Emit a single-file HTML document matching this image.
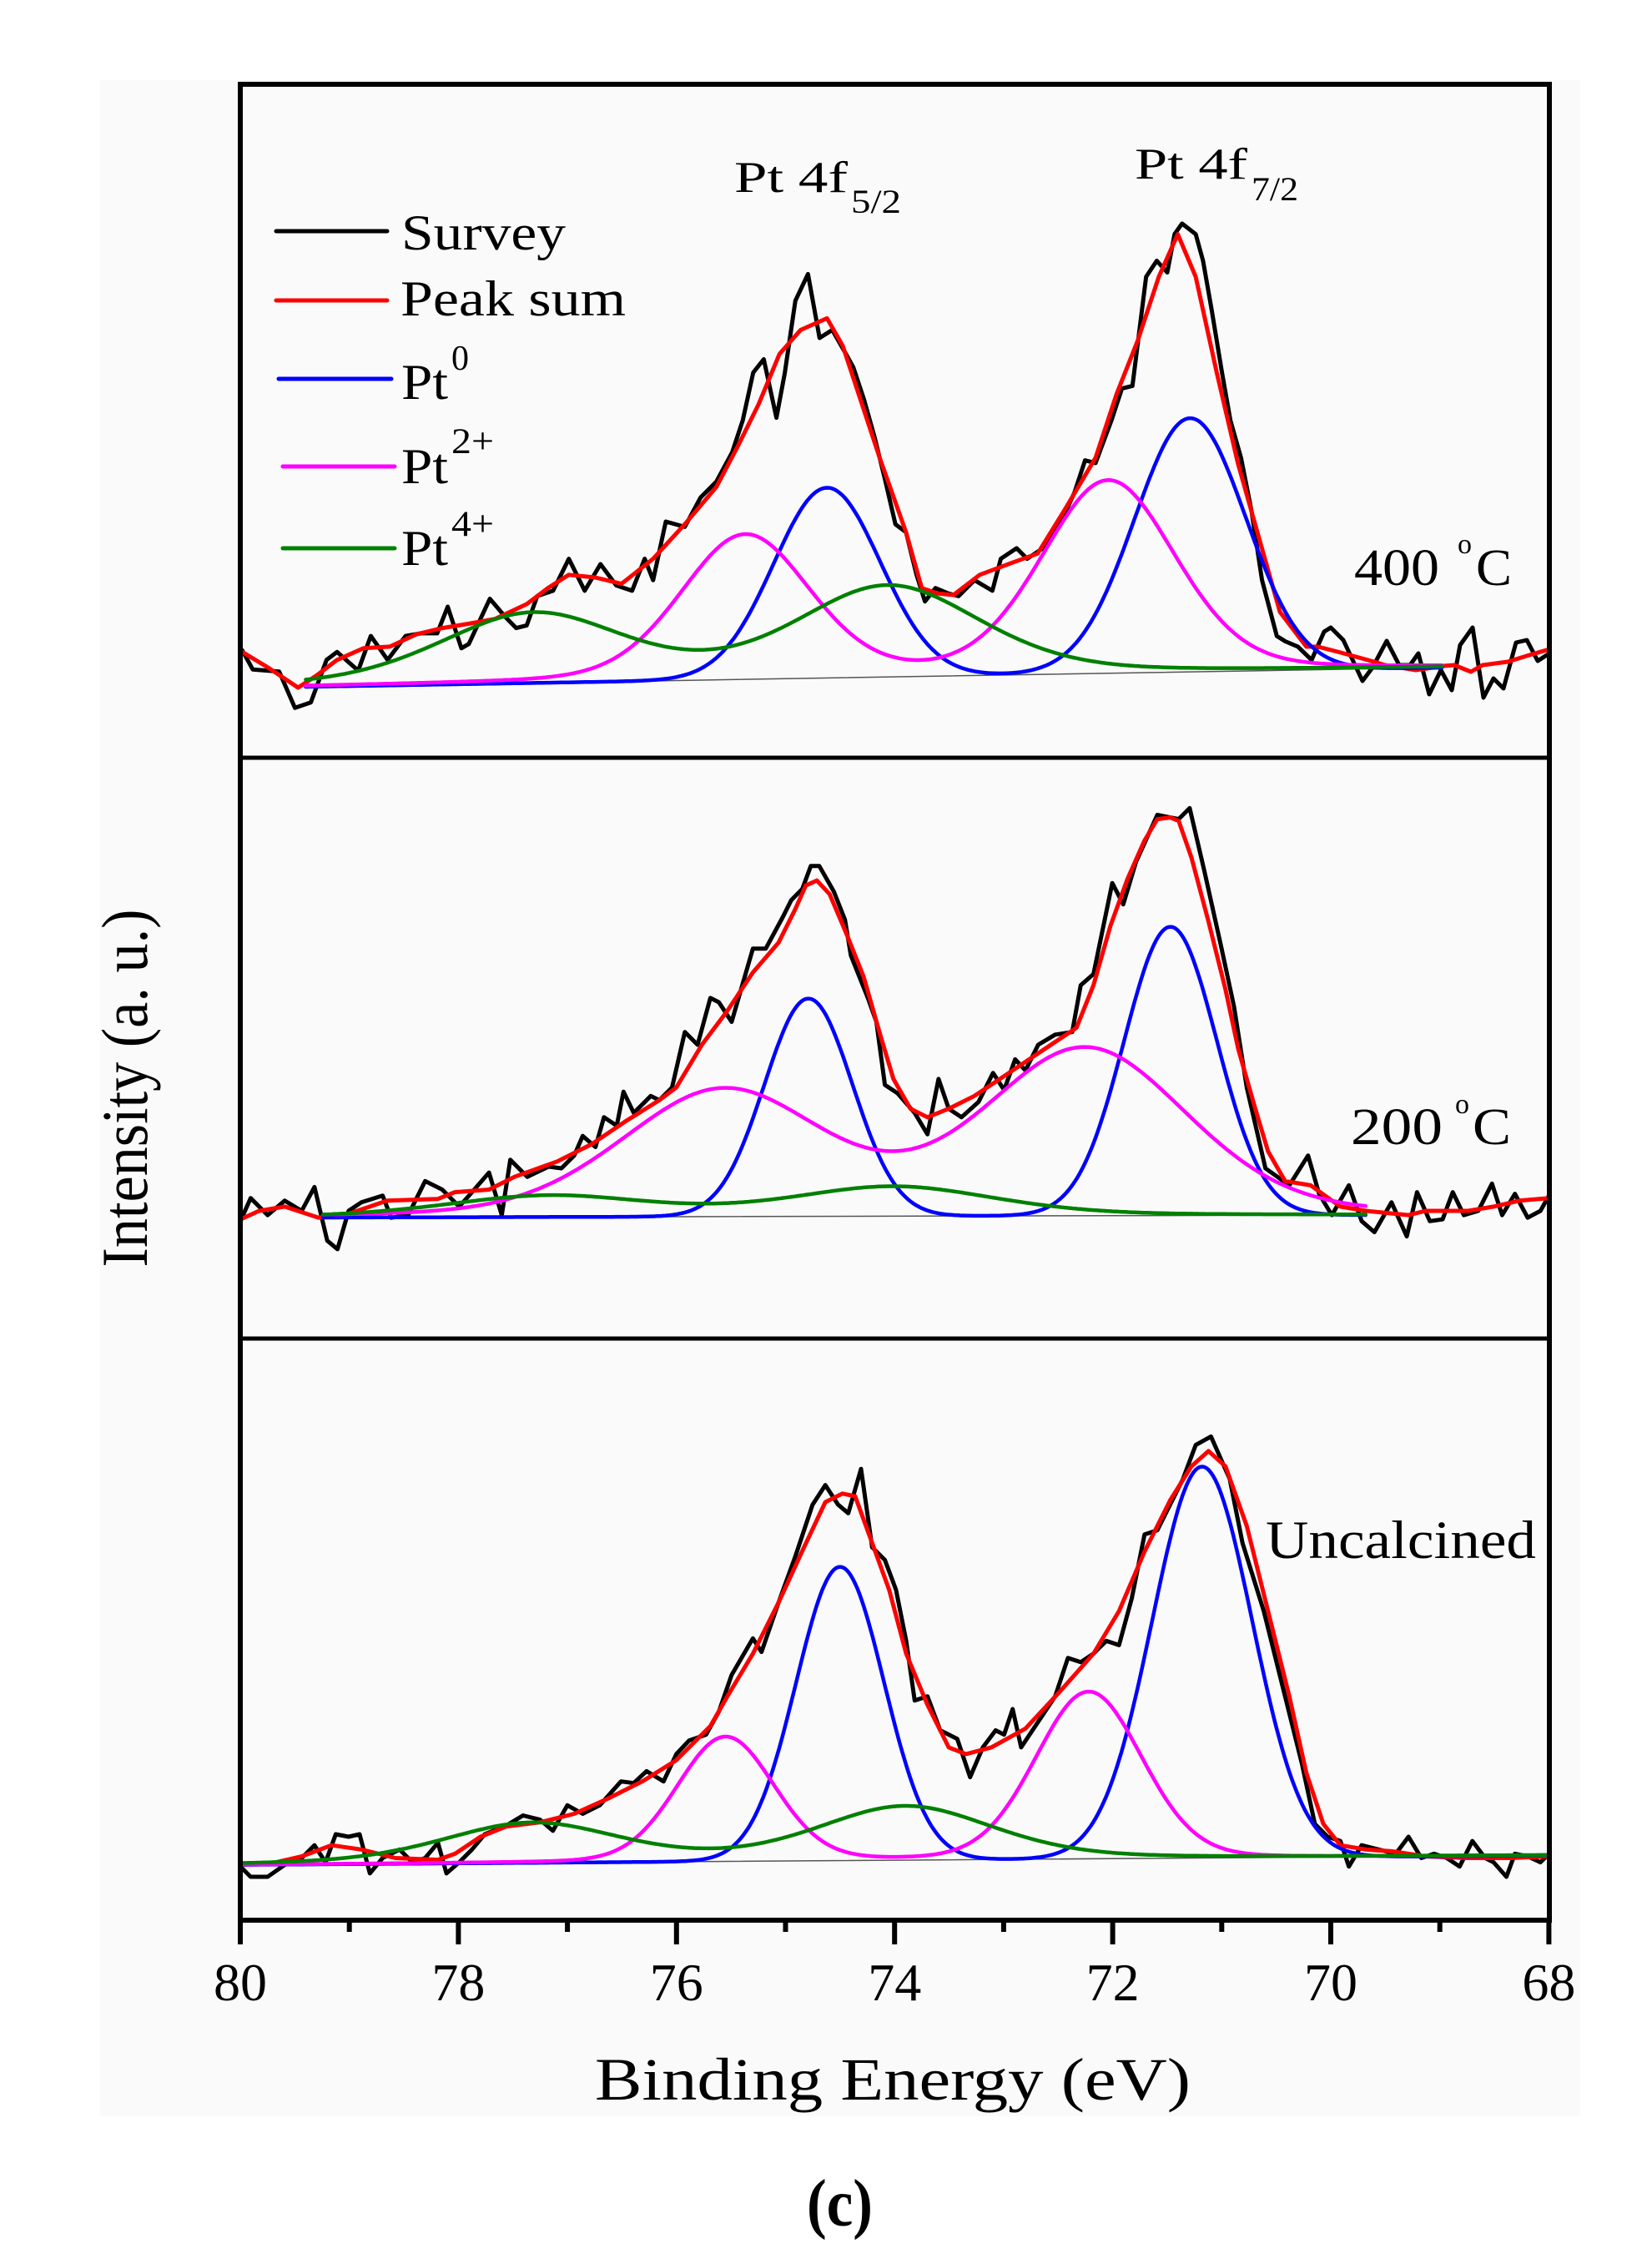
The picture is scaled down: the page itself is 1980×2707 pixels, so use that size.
<!DOCTYPE html>
<html>
<head>
<meta charset="utf-8">
<style>
html,body{margin:0;padding:0;background:#fff;}
svg{display:block;}
svg text{font-family:"Liberation Serif",serif !important;fill:#000;}
</style>
</head>
<body>
<svg id="s" xmlns="http://www.w3.org/2000/svg" width="1980" height="2707" viewBox="0 0 1980 2707" font-family="Liberation Serif, serif">
<rect x="0" y="0" width="1980" height="2707" fill="#ffffff"/>
<rect x="120" y="96" width="1774" height="2440" fill="#fafafa"/>

<g id="curves"></g>

<!-- frame -->
<rect x="288" y="101" width="1569" height="2200" fill="none" stroke="#000" stroke-width="6"/>
<line x1="288" y1="908" x2="1857" y2="908" stroke="#000" stroke-width="5"/>
<line x1="288" y1="1604" x2="1857" y2="1604" stroke="#000" stroke-width="5"/>

<!-- ticks -->
<g stroke="#000" stroke-width="6">
<line x1="288" y1="2301" x2="288" y2="2330"/>
<line x1="418.7" y1="2301" x2="418.7" y2="2315"/>
<line x1="549.4" y1="2301" x2="549.4" y2="2330"/>
<line x1="680.1" y1="2301" x2="680.1" y2="2315"/>
<line x1="810.8" y1="2301" x2="810.8" y2="2330"/>
<line x1="941.5" y1="2301" x2="941.5" y2="2315"/>
<line x1="1072.2" y1="2301" x2="1072.2" y2="2330"/>
<line x1="1202.9" y1="2301" x2="1202.9" y2="2315"/>
<line x1="1333.6" y1="2301" x2="1333.6" y2="2330"/>
<line x1="1464.3" y1="2301" x2="1464.3" y2="2315"/>
<line x1="1595" y1="2301" x2="1595" y2="2330"/>
<line x1="1725.7" y1="2301" x2="1725.7" y2="2315"/>
<line x1="1856.4" y1="2301" x2="1856.4" y2="2330"/>
</g>
<g font-size="64" text-anchor="middle">
<text x="288" y="2397">80</text>
<text x="549.4" y="2397">78</text>
<text x="810.8" y="2397">76</text>
<text x="1072.2" y="2397">74</text>
<text x="1333.6" y="2397">72</text>
<text x="1595" y="2397">70</text>
<text x="1856.4" y="2397">68</text>
</g>

<text x="713" y="2516" font-size="72" textLength="714" lengthAdjust="spacingAndGlyphs">Binding Energy (eV)</text>
<text x="967" y="2667" font-size="80" font-weight="bold" textLength="79" lengthAdjust="spacingAndGlyphs">(c)</text>

<text transform="translate(176,1304) rotate(-90) scale(1,1.12)" font-size="70" text-anchor="middle" textLength="429" lengthAdjust="spacingAndGlyphs">Intensity (a. u.)</text>

<!-- legend -->
<g stroke-width="5" stroke-linecap="round">
<line x1="331" y1="277" x2="464" y2="277" stroke="#000"/>
<line x1="331" y1="360" x2="464" y2="360" stroke="#ff0000"/>
<line x1="334" y1="454" x2="469" y2="454" stroke="#0000ff"/>
<line x1="339" y1="559" x2="473" y2="559" stroke="#ff00ff"/>
<line x1="339" y1="657" x2="473" y2="657" stroke="#008000"/>
</g>
<text x="481" y="299" font-size="60" textLength="197" lengthAdjust="spacingAndGlyphs">Survey</text>
<text x="480" y="378" font-size="60" textLength="270" lengthAdjust="spacingAndGlyphs">Peak sum</text>
<text x="481" y="478" font-size="60" textLength="56" lengthAdjust="spacingAndGlyphs">Pt</text>
<text x="541" y="443" font-size="42" textLength="21" lengthAdjust="spacingAndGlyphs">0</text>
<text x="481" y="579" font-size="60" textLength="56" lengthAdjust="spacingAndGlyphs">Pt</text>
<text x="541" y="543" font-size="43" textLength="51" lengthAdjust="spacingAndGlyphs">2+</text>
<text x="481" y="677" font-size="60" textLength="56" lengthAdjust="spacingAndGlyphs">Pt</text>
<text x="541" y="642" font-size="43" textLength="51" lengthAdjust="spacingAndGlyphs">4+</text>

<!-- peak labels -->
<text x="880" y="230" font-size="53" textLength="136" lengthAdjust="spacingAndGlyphs">Pt 4f</text>
<text x="1020" y="255" font-size="40" textLength="60" lengthAdjust="spacingAndGlyphs">5/2</text>
<text x="1360" y="214" font-size="53" textLength="135" lengthAdjust="spacingAndGlyphs">Pt 4f</text>
<text x="1500" y="240" font-size="40" textLength="56" lengthAdjust="spacingAndGlyphs">7/2</text>

<!-- panel labels -->
<text x="1623" y="701" font-size="62" textLength="102" lengthAdjust="spacingAndGlyphs">400</text>
<text x="1747" y="663" font-size="34">o</text>
<text x="1769" y="701" font-size="62" textLength="43" lengthAdjust="spacingAndGlyphs">C</text>

<text x="1619" y="1371" font-size="62" textLength="110" lengthAdjust="spacingAndGlyphs">200</text>
<text x="1744" y="1334" font-size="34">o</text>
<text x="1765" y="1371" font-size="62" textLength="46" lengthAdjust="spacingAndGlyphs">C</text>

<text x="1517" y="1867" font-size="65" textLength="324" lengthAdjust="spacingAndGlyphs">Uncalcined</text>
</svg>

<script>
(function(){
var NS="http://www.w3.org/2000/svg";
var g=document.getElementById('curves');
function poly(pts,color,w){
  var p=document.createElementNS(NS,'polyline');
  p.setAttribute('points',pts.map(function(a){return a[0].toFixed(1)+','+a[1].toFixed(1);}).join(' '));
  p.setAttribute('fill','none');p.setAttribute('stroke',color);
  p.setAttribute('stroke-width',w);p.setAttribute('stroke-linejoin','round');p.setAttribute('stroke-linecap','round');
  g.appendChild(p);
}
function X(E){return 288+(80-E)*130.7;}
function z1(a){return [a[0]/0.792,a[1]/1.568];}
function z7(a){return [280+a[0]/0.98,900+a[1]/0.98];}
function pv(E,c){var d=E-c.E,q=4*d*d/(c.F*c.F);return c.h*((1-c.m)*Math.exp(-Math.LN2*q)+c.m/(1+q));}
function comp(P,peaks,color,w){
  var pts=[];
  for(var E=P.E0;E>=P.E1-1e-9;E-=0.02){
    var yb=P.y0+(P.E0-E)/(P.E0-P.E1)*(P.y1-P.y0);
    var s=0;for(var i=0;i<peaks.length;i++)s+=pv(E,peaks[i]);
    pts.push([X(E),yb-s]);
  }
  poly(pts,color,w);
}
function base(P){poly([[X(P.E0),P.y0],[X(P.E1),P.y1]],'#555',1.5);}

/* ---------- TOP (400 C) ---------- */
var topRed=[[230,1225],[255,1255],[283,1292],[300,1270],[320,1240],[345,1218],[370,1215],[395,1192],[420,1180],[445,1172],[470,1163],[500,1135],[520,1105],[540,1080],[565,1085],[590,1097],[620,1050],[650,985],[680,915],[700,840],[720,760],[740,665],[760,620],[785,598],[800,650],[815,740],[835,860],[860,1000],[875,1105],[890,1115],[905,1118],[930,1080],[960,1058],[985,1040],[1010,960],[1040,860],[1060,740],[1080,640],[1100,520],[1118,440],[1135,520],[1155,700],[1175,870],[1195,1010],[1215,1150],[1240,1215]].map(z1)
 .concat([[1580,775],[1607,782],[1647,793],[1660,797],[1697,803],[1730,798],[1743,797],[1763,805],[1777,797],[1807,793],[1833,785],[1857,778]]);
var topBlack=[[230,1222],[240,1258],[265,1262],[280,1330],[295,1320],[310,1240],[320,1225],[340,1260],[352,1195],[368,1240],[385,1195],[400,1190],[415,1190],[425,1140],[438,1218],[445,1210],[465,1125],[480,1160],[490,1180],[500,1175],[510,1120],[525,1110],[540,1050],[555,1110],[570,1060],[585,1100],[600,1110],[612,1050],[620,1090],[632,980],[650,990],[665,935],[680,905],[695,850],[705,790],[715,700],[725,675],[737,785],[745,700],[755,565],[767,515],[778,635],[790,620],[803,665],[810,690],[820,750],[830,820],[840,900],[850,985],[860,1000],[870,1080],[878,1130],[888,1105],[900,1115],[910,1120],[925,1090],[942,1110],[950,1050],[965,1030],[975,1050],[990,1030],[1005,990],[1020,925],[1030,865],[1040,870],[1055,790],[1065,730],[1075,725],[1088,520],[1098,490],[1108,512],[1115,440],[1122,420],[1135,440],[1142,490],[1150,580],[1160,700],[1168,790],[1178,860],[1188,960],[1198,1090],[1212,1195],[1220,1205],[1232,1215],[1245,1240]].map(z1)
 .concat([[1587,757],[1595,752],[1610,767],[1633,816],[1645,800],[1662,768],[1677,797],[1690,797],[1700,783],[1713,832],[1727,803],[1740,827],[1750,773],[1765,752],[1778,836],[1790,813],[1802,825],[1817,770],[1830,767],[1843,792],[1857,783]]);
var PT={E0:79.40,y0:823,E1:68.97,y1:800};
base(PT);
poly(topBlack,'#000',5);
poly(topRed,'#ff0000',5);
comp(PT,[{E:74.62,h:228,F:1.15,m:0},{E:71.29,h:304,F:1.2,m:0}],'#0000ff',4.5);
comp(PT,[{E:75.37,h:172,F:1.4,m:0.2},{E:72.04,h:230,F:1.45,m:0.2}],'#ff00ff',4.5);
comp(PT,[{E:77.32,h:82,F:2.0,m:0.3},{E:74.06,h:108,F:2.0,m:0.3}],'#008000',4.5);

/* ---------- MIDDLE (200 C) ---------- */
var midRed=[[8,550],[30,540],[60,535],[100,548],[130,545],[160,535],[180,528],[240,526],[260,518],[300,515],[330,500],[380,482],[420,462],[460,435],[500,410],[520,395],[550,345],[580,305],[610,260],[640,225],[660,185],[672,158],[685,152],[700,168],[720,215],[740,265],[760,335],[775,385],[795,420],[815,430],[840,420],[870,405],[900,385],[930,365],[960,345],[990,325],[1010,275],[1030,205],[1050,150],[1070,105],[1085,80],[1100,78],[1110,82],[1125,125],[1145,200],[1165,280],[1180,350],[1200,420],[1215,470],[1235,505],[1265,510],[1300,535],[1330,540],[1380,545],[1400,540],[1450,540],[1480,535],[1510,528],[1545,525]].map(z7);
var midBlack=[[8,552],[20,525],[40,545],[60,528],[80,540],[95,512],[110,575],[122,585],[135,540],[150,530],[175,522],[185,548],[205,545],[225,505],[245,515],[265,535],[280,518],[300,495],[315,545],[325,480],[345,500],[370,488],[385,490],[400,475],[410,452],[425,465],[435,430],[450,440],[458,400],[470,425],[490,405],[500,410],[515,395],[530,330],[545,345],[560,290],[570,295],[585,318],[610,232],[625,232],[645,195],[655,175],[668,162],[678,135],[688,135],[705,165],[718,198],[725,240],[745,290],[755,318],[765,392],[780,402],[800,425],[815,450],[828,385],[840,420],[855,430],[875,412],[892,378],[905,398],[918,362],[930,375],[945,345],[965,333],[985,330],[995,275],[1010,262],[1032,155],[1045,180],[1060,130],[1085,75],[1110,80],[1123,67],[1140,140],[1160,230],[1175,300],[1190,395],[1212,490],[1240,510],[1262,475],[1275,520],[1290,545],[1310,510],[1325,552],[1340,565],[1360,530],[1378,570],[1390,518],[1405,552],[1420,550],[1432,518],[1445,545],[1462,540],[1478,508],[1490,545],[1505,520],[1520,548],[1535,540],[1545,522]].map(z7);
var PM={E0:79.24,y0:1459,E1:69.68,y1:1456};
base(PM);
poly(midBlack,'#000',5);
poly(midRed,'#ff0000',5);
comp(PM,[{E:74.79,h:261,F:0.95,m:0},{E:71.47,h:346,F:1.0,m:0}],'#0000ff',4.5);
comp(PM,[{E:75.57,h:150,F:2.2,m:0.2},{E:72.25,h:199,F:2.2,m:0.2}],'#ff00ff',4.5);
comp(PM,[{E:77.17,h:25,F:2.2,m:0.3},{E:74.01,h:35,F:2.2,m:0.3}],'#008000',4.5);

/* ---------- BOTTOM (Uncalcined) ---------- */
var botRed=[[8,1308],[50,1305],[80,1298],[115,1285],[150,1290],[190,1300],[240,1302],[260,1295],[290,1275],[320,1263],[360,1258],[400,1248],[440,1230],[480,1210],[520,1185],[560,1145],[580,1110],[610,1060],[640,1000],[670,935],[695,882],[715,872],[730,875],[750,930],[770,985],[790,1060],[815,1120],[840,1170],[860,1178],[890,1170],[930,1148],[970,1105],[1010,1060],[1040,1010],[1070,940],[1100,880],[1125,840],[1145,822],[1165,840],[1190,910],[1215,1010],[1240,1110],[1260,1200],[1280,1260],[1300,1285],[1330,1290],[1360,1292],[1400,1298],[1450,1300],[1500,1300],[1545,1298]].map(z7);
var botBlack=[[8,1310],[20,1322],[40,1322],[60,1308],[80,1300],[95,1285],[108,1305],[120,1272],[135,1275],[148,1272],[160,1318],[175,1300],[195,1290],[210,1305],[225,1300],[240,1282],[250,1318],[265,1305],[280,1290],[295,1272],[320,1262],[340,1250],[360,1255],[375,1268],[392,1238],[410,1248],[430,1238],[455,1210],[470,1212],[485,1198],[505,1210],[520,1178],[535,1162],[555,1155],[570,1128],[585,1085],[610,1042],[620,1058],[640,1000],[660,945],[680,885],[695,862],[710,885],[722,895],[737,843],[750,935],[765,950],[778,985],[790,1045],[800,1115],[815,1110],[830,1150],[850,1160],[865,1205],[880,1170],[895,1150],[905,1155],[915,1125],[925,1170],[945,1140],[965,1110],[980,1065],[995,1070],[1010,1060],[1025,1045],[1040,1050],[1055,995],[1070,920],[1085,915],[1100,885],[1115,855],[1130,815],[1148,805],[1170,855],[1185,930],[1210,1010],[1235,1110],[1255,1190],[1270,1260],[1285,1275],[1300,1280],[1310,1310],[1325,1285],[1345,1290],[1365,1295],[1380,1275],[1395,1300],[1410,1295],[1425,1300],[1440,1310],[1455,1280],[1470,1300],[1480,1305],[1495,1322],[1505,1295],[1520,1298],[1535,1305],[1545,1295]].map(z7);
var PB={E0:80,y0:2234.7,E1:68,y1:2223.5};
base(PB);
poly(botBlack,'#000',5);
poly(botRed,'#ff0000',5);
comp(PB,[{E:74.50,h:352,F:0.95,m:0},{E:71.18,h:469,F:1.08,m:0}],'#0000ff',4.5);
comp(PB,[{E:75.55,h:149,F:1.05,m:0.1},{E:72.22,h:200,F:1.15,m:0.1}],'#ff00ff',4.5);
comp(PB,[{E:77.33,h:47,F:1.9,m:0.3},{E:73.90,h:64,F:1.9,m:0.3}],'#008000',4.5);
})();
</script>
</body>
</html>
